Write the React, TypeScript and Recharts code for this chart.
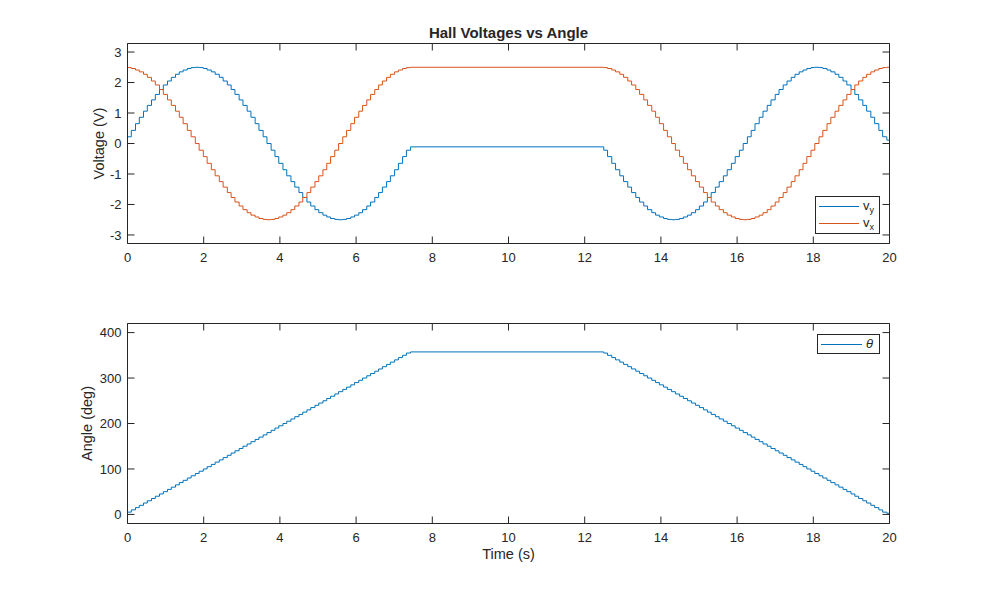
import React from 'react';
import { LineChart, Line, XAxis, YAxis, Legend } from 'recharts';

// ---- data ----
const TIME = [
  0, 0.1, 0.21, 0.31, 0.42, 0.52, 0.63, 0.73, 0.84, 0.94,
  1.05, 1.15, 1.26, 1.36, 1.46, 1.57, 1.67, 1.78, 1.88, 1.99,
  2.09, 2.2, 2.3, 2.41, 2.51, 2.62, 2.72, 2.82, 2.93, 3.03,
  3.14, 3.24, 3.35, 3.45, 3.56, 3.66, 3.77, 3.87, 3.97, 4.08,
  4.18, 4.29, 4.39, 4.5, 4.6, 4.71, 4.81, 4.92, 5.02, 5.13,
  5.23, 5.33, 5.44, 5.54, 5.65, 5.75, 5.86, 5.96, 6.07, 6.17,
  6.28, 6.38, 6.49, 6.59, 6.69, 6.8, 6.9, 7.01, 7.11, 7.22,
  7.32, 7.43,
  12.5, 12.6, 12.71, 12.81, 12.92, 13.02, 13.13, 13.23, 13.34, 13.44,
  13.55, 13.65, 13.76, 13.86, 13.96, 14.07, 14.17, 14.28, 14.38, 14.49,
  14.59, 14.7, 14.8, 14.91, 15.01, 15.12, 15.22, 15.32, 15.43, 15.53,
  15.64, 15.74, 15.85, 15.95, 16.06, 16.16, 16.27, 16.37, 16.47, 16.58,
  16.68, 16.79, 16.89, 17.0, 17.1, 17.21, 17.31, 17.42, 17.52, 17.63,
  17.73, 17.83, 17.94, 18.04, 18.15, 18.25, 18.36, 18.46, 18.57, 18.67,
  18.78, 18.88, 18.99, 19.09, 19.19, 19.3, 19.4, 19.51, 19.61, 19.72,
  19.82, 19.93, 20,
];

const ANGLE = [
  5, 10, 15, 20, 25, 30, 35, 40, 45, 50,
  55, 60, 65, 70, 75, 80, 85, 90, 95, 100,
  105, 110, 115, 120, 125, 130, 135, 140, 145, 150,
  155, 160, 165, 170, 175, 180, 185, 190, 195, 200,
  205, 210, 215, 220, 225, 230, 235, 240, 245, 250,
  255, 260, 265, 270, 275, 280, 285, 290, 295, 300,
  305, 310, 315, 320, 325, 330, 335, 340, 345, 350,
  355, 357.5,
  355, 350, 345, 340, 335, 330, 325, 320, 315, 310,
  305, 300, 295, 290, 285, 280, 275, 270, 265, 260,
  255, 250, 245, 240, 235, 230, 225, 220, 215, 210,
  205, 200, 195, 190, 185, 180, 175, 170, 165, 160,
  155, 150, 145, 140, 135, 130, 125, 120, 115, 110,
  105, 100, 95, 90, 85, 80, 75, 70, 65, 60,
  55, 50, 45, 40, 35, 30, 25, 20, 15, 10,
  5, 2.5, 2.5,
];

const VY = [
  0.22, 0.43, 0.65, 0.86, 1.06, 1.25, 1.43, 1.61, 1.77, 1.92,
  2.05, 2.17, 2.27, 2.35, 2.41, 2.46, 2.49, 2.5,
  2.49, 2.46, 2.41, 2.35, 2.27, 2.17, 2.05, 1.92, 1.77, 1.61,
  1.43, 1.25, 1.06, 0.86, 0.65, 0.43, 0.22, 0,
  -0.22, -0.43, -0.65, -0.86, -1.06, -1.25, -1.43, -1.61, -1.77, -1.92,
  -2.05, -2.17, -2.27, -2.35, -2.41, -2.46, -2.49, -2.5,
  -2.49, -2.46, -2.41, -2.35, -2.27, -2.17, -2.05, -1.92, -1.77, -1.61,
  -1.43, -1.25, -1.06, -0.86, -0.65, -0.43, -0.22,
  -0.11,
  -0.22, -0.43, -0.65, -0.86, -1.06, -1.25, -1.43, -1.61, -1.77, -1.92,
  -2.05, -2.17, -2.27, -2.35, -2.41, -2.46, -2.49,
  -2.5,
  -2.49, -2.46, -2.41, -2.35, -2.27, -2.17, -2.05, -1.92, -1.77, -1.61,
  -1.43, -1.25, -1.06, -0.86, -0.65, -0.43, -0.22,
  0,
  0.22, 0.43, 0.65, 0.86, 1.06, 1.25, 1.43, 1.61, 1.77, 1.92,
  2.05, 2.17, 2.27, 2.35, 2.41, 2.46, 2.49,
  2.5,
  2.49, 2.46, 2.41, 2.35, 2.27, 2.17, 2.05, 1.92, 1.77, 1.61,
  1.43, 1.25, 1.06, 0.86, 0.65, 0.43, 0.22,
  0.11, 0.11,
];

const VX = [
  2.49, 2.46, 2.41, 2.35, 2.27, 2.17, 2.05, 1.92, 1.77, 1.61,
  1.43, 1.25, 1.06, 0.86, 0.65, 0.43, 0.22, 0,
  -0.22, -0.43, -0.65, -0.86, -1.06, -1.25, -1.43, -1.61, -1.77, -1.92,
  -2.05, -2.17, -2.27, -2.35, -2.41, -2.46, -2.49, -2.5,
  -2.49, -2.46, -2.41, -2.35, -2.27, -2.17, -2.05, -1.92, -1.77, -1.61,
  -1.43, -1.25, -1.06, -0.86, -0.65, -0.43, -0.22, 0,
  0.22, 0.43, 0.65, 0.86, 1.06, 1.25, 1.43, 1.61, 1.77, 1.92,
  2.05, 2.17, 2.27, 2.35, 2.41, 2.46, 2.49,
  2.5,
  2.49, 2.46, 2.41, 2.35, 2.27, 2.17, 2.05, 1.92, 1.77, 1.61,
  1.43, 1.25, 1.06, 0.86, 0.65, 0.43, 0.22,
  0,
  -0.22, -0.43, -0.65, -0.86, -1.06, -1.25, -1.43, -1.61, -1.77, -1.92,
  -2.05, -2.17, -2.27, -2.35, -2.41, -2.46, -2.49,
  -2.5,
  -2.49, -2.46, -2.41, -2.35, -2.27, -2.17, -2.05, -1.92, -1.77, -1.61,
  -1.43, -1.25, -1.06, -0.86, -0.65, -0.43, -0.22,
  0,
  0.22, 0.43, 0.65, 0.86, 1.06, 1.25, 1.43, 1.61, 1.77, 1.92,
  2.05, 2.17, 2.27, 2.35, 2.41, 2.46, 2.49,
  2.5, 2.5,
];

const X_TICKS = [0, 2, 4, 6, 8, 10, 12, 14, 16, 18, 20];
const V_TICKS = [-3, -2, -1, 0, 1, 2, 3];
const A_TICKS = [0, 100, 200, 300, 400];

const rows = TIME.map((t, i) => ({ t, vy: VY[i], vx: VX[i], theta: ANGLE[i] }));

// ---- styles ----
const AX = '#262626';
const BLUE = '#0072BD';
const ORANGE = '#D95319';
const FONT = '"Liberation Sans", Arial, Helvetica, sans-serif';
const TL = 7;

const LeftTick = (p: any) => (
  <g>
    <line x1={p.x} x2={p.x + TL} y1={p.y} y2={p.y} stroke={AX} strokeWidth={1} />
    <text x={p.x - 6} y={p.y} dy="0.36em" textAnchor="end" fontSize={13} fill={AX} fontFamily={FONT}>
      {p.payload.value}
    </text>
  </g>
);
const RightTick = (p: any) => (
  <line x1={p.x} x2={p.x - TL} y1={p.y} y2={p.y} stroke={AX} strokeWidth={1} />
);
const BottomTick = (p: any) => (
  <g>
    <line x1={p.x} x2={p.x} y1={p.y} y2={p.y - TL} stroke={AX} strokeWidth={1} />
    <text x={p.x} y={p.y + 18} textAnchor="middle" fontSize={13} fill={AX} fontFamily={FONT}>
      {p.payload.value}
    </text>
  </g>
);
const TopTick = (p: any) => (
  <line x1={p.x} x2={p.x} y1={p.y} y2={p.y + TL} stroke={AX} strokeWidth={1} />
);

const TopLegend = () => (
  <div style={{ width: 63, height: 36, border: `1px solid ${AX}`, background: '#fff' }}>
    <svg width={63} height={36} style={{ display: 'block' }}>
      <line x1={3} x2={43} y1={9.5} y2={9.5} stroke={BLUE} strokeWidth={1} />
      <text x={47} y={13} fontSize={13} fill={AX} fontFamily={FONT}>
        v<tspan dy={3} fontSize={9}>y</tspan>
      </text>
      <line x1={3} x2={43} y1={26.5} y2={26.5} stroke={ORANGE} strokeWidth={1} />
      <text x={47} y={30} fontSize={13} fill={AX} fontFamily={FONT}>
        v<tspan dy={3} fontSize={9}>x</tspan>
      </text>
    </svg>
  </div>
);

const BottomLegend = () => (
  <div style={{ width: 61, height: 18, border: `1px solid ${AX}`, background: '#fff' }}>
    <svg width={61} height={18} style={{ display: 'block' }}>
      <line x1={3} x2={44} y1={9.5} y2={9.5} stroke={BLUE} strokeWidth={1} />
      <text x={48} y={13} fontSize={13} fontStyle="italic" fill={AX} fontFamily={FONT}>
        θ
      </text>
    </svg>
  </div>
);

export default function App() {
  return (
    <div style={{ position: 'absolute', left: 0, top: 0, width: 983, height: 590, background: '#fff' }}>
      <svg width={983} height={590} style={{ position: 'absolute', left: 0, top: 0 }}>
        <text x={508.5} y={38.3} textAnchor="middle" fontSize={15} fontWeight="bold" fill={AX} fontFamily={FONT}>
          Hall Voltages vs Angle
        </text>
        <text transform="translate(103.5,143.5) rotate(-90)" textAnchor="middle" fontSize={14.5} fill={AX} fontFamily={FONT}>
          Voltage (V)
        </text>
        <text transform="translate(91.5,423.5) rotate(-90)" textAnchor="middle" fontSize={14.5} fill={AX} fontFamily={FONT}>
          Angle (deg)
        </text>
        <text x={508.5} y={558.5} textAnchor="middle" fontSize={14.5} fill={AX} fontFamily={FONT}>
          Time (s)
        </text>
      </svg>

      <div style={{ position: 'absolute', left: 0, top: 0 }}>
        <LineChart width={983} height={300} data={rows} margin={{ top: 42.5, right: 92.5, bottom: 55.5, left: 126.5 }}>
          <XAxis dataKey="t" type="number" domain={[0, 20]} ticks={X_TICKS} allowDataOverflow height={1}
            tickSize={0} tickMargin={0} tickLine={false} tick={BottomTick} axisLine={{ stroke: AX }} interval={0} />
          <XAxis xAxisId="top" dataKey="t" orientation="top" type="number" domain={[0, 20]} ticks={X_TICKS} allowDataOverflow height={1}
            tickSize={0} tickMargin={0} tickLine={false} tick={TopTick} axisLine={{ stroke: AX }} interval={0} />
          <YAxis type="number" domain={[-3.28, 3.28]} ticks={V_TICKS} allowDataOverflow width={1}
            tickSize={0} tickMargin={0} tickLine={false} tick={LeftTick} axisLine={{ stroke: AX }} interval={0} />
          <YAxis yAxisId="r" orientation="right" type="number" domain={[-3.28, 3.28]} ticks={V_TICKS} allowDataOverflow width={1}
            tickSize={0} tickMargin={0} tickLine={false} tick={RightTick} axisLine={{ stroke: AX }} interval={0} />
          <Line type="stepAfter" dataKey="vy" stroke={BLUE} strokeWidth={1} dot={false} activeDot={false} isAnimationActive={false} />
          <Line type="stepAfter" dataKey="vx" stroke={ORANGE} strokeWidth={1} dot={false} activeDot={false} isAnimationActive={false} />
          <Legend layout="horizontal" verticalAlign="middle" align="center" content={TopLegend}
            wrapperStyle={{ left: 815, top: 196, width: 65, height: 38, lineHeight: 0 }} />
        </LineChart>
      </div>

      <div style={{ position: 'absolute', left: 0, top: 290 }}>
        <LineChart width={983} height={300} data={rows} margin={{ top: 32.5, right: 92.5, bottom: 65.5, left: 126.5 }}>
          <XAxis dataKey="t" type="number" domain={[0, 20]} ticks={X_TICKS} allowDataOverflow height={1}
            tickSize={0} tickMargin={0} tickLine={false} tick={BottomTick} axisLine={{ stroke: AX }} interval={0} />
          <XAxis xAxisId="top" dataKey="t" orientation="top" type="number" domain={[0, 20]} ticks={X_TICKS} allowDataOverflow height={1}
            tickSize={0} tickMargin={0} tickLine={false} tick={TopTick} axisLine={{ stroke: AX }} interval={0} />
          <YAxis type="number" domain={[-20, 420]} ticks={A_TICKS} allowDataOverflow width={1}
            tickSize={0} tickMargin={0} tickLine={false} tick={LeftTick} axisLine={{ stroke: AX }} interval={0} />
          <YAxis yAxisId="r" orientation="right" type="number" domain={[-20, 420]} ticks={A_TICKS} allowDataOverflow width={1}
            tickSize={0} tickMargin={0} tickLine={false} tick={RightTick} axisLine={{ stroke: AX }} interval={0} />
          <Line type="stepAfter" dataKey="theta" stroke={BLUE} strokeWidth={1} dot={false} activeDot={false} isAnimationActive={false} />
          <Legend layout="horizontal" verticalAlign="middle" align="center" content={BottomLegend}
            wrapperStyle={{ left: 817, top: 44, width: 63, height: 20, lineHeight: 0 }} />
        </LineChart>
      </div>
    </div>
  );
}
